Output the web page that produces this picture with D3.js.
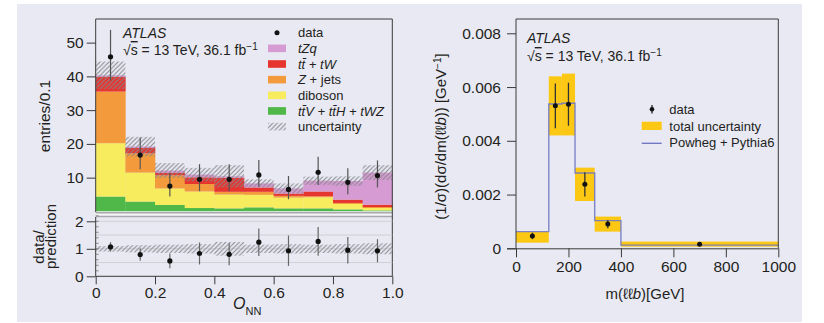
<!DOCTYPE html>
<html>
<head>
<meta charset="utf-8">
<script src="https://cdn.jsdelivr.net/npm/d3@7"></script>
<style>
  html, body { margin: 0; padding: 0; background: #ffffff; }
  svg { display: block; }
  text { font-family: "Liberation Sans Narrow", "Arial Narrow", "Liberation Sans", Arial, sans-serif; fill: #231f20; }
</style>
</head>
<body>
<div id="chart"></div>
<script>
// Left panel: O_NN distribution, 10 bins of 0.1
const binEdges = [0, 0.1, 0.2, 0.3, 0.4, 0.5, 0.6, 0.7, 0.8, 0.9, 1.0];
const ttvStack = [4.4, 2.9, 1.9, 1.0, 0.9, 1.2, 0.9, 0.9, 0.6, 0.3];
const diboson = [15.8, 8.6, 4.9, 4.9, 4.1, 3.7, 3.2, 3.3, 1.6, 0.7];
const zJets = [15.3, 5.7, 3.9, 2.2, 0.8, 0.9, 0.5, 0.3, 0.3, 0.3];
const ttW = [4.4, 1.6, 0.8, 2.0, 4.2, 1.3, 0.7, 1.4, 1.0, 0.7];
const tZq = [0.4, 0.4, 0.6, 0.8, 0.4, 1.2, 1.5, 3.2, 5.5, 9.5];
const mcUnc = [4.1, 2.9, 2.2, 2.0, 3.3, 1.2, 1.5, 1.2, 1.4, 2.2];
const dataVals = [45.8, 16.7, 7.5, 9.5, 9.5, 10.8, 6.5, 11.6, 8.6, 10.6];
const dataUp = [8.0, 5.2, 3.8, 4.5, 4.5, 4.4, 4.0, 4.6, 4.2, 4.5];
const dataDown = [7.0, 4.2, 3.1, 3.5, 3.5, 3.5, 2.9, 3.8, 3.5, 3.5];
const ratioVals = [1.07, 0.79, 0.56, 0.83, 0.80, 1.24, 0.93, 1.27, 0.95, 0.93];
const ratioErr = [0.17, 0.22, 0.27, 0.4, 0.4, 0.5, 0.55, 0.52, 0.48, 0.42];
const ratioBand = [0.1, 0.13, 0.15, 0.17, 0.25, 0.15, 0.17, 0.15, 0.17, 0.2];
const mainTicks = [10, 20, 30, 40, 50];
const ratioTicks = [0, 1, 2];
const onnTicks = [0, 0.2, 0.4, 0.6, 0.8, 1.0];

// Right panel: normalised m(llb) cross-section
const mEdges = [0, 125, 175, 225, 300, 400, 1000];
const mData = [0.00046, 0.0053, 0.00536, 0.00238, 0.0009, 0.00015];
const mDataErr = [0.00012, 0.00083, 0.0008, 0.00045, 0.00015, 0.00003];
const mUncLow = [0.00021, 0.0042, 0.0042, 0.00176, 0.00062, 0.00006];
const mUncHigh = [0.00062, 0.0064, 0.0065, 0.0030, 0.00118, 0.00025];
const powheg = [0.00062, 0.00537, 0.0054, 0.0028, 0.00103, 0.00012];
const mTicksX = [0, 200, 400, 600, 800, 1000];
const mTicksY = [0, 0.002, 0.004, 0.006, 0.008];

const procNames = ["ttv", "diboson", "zjets", "ttw", "tzq"];
const procColors = { ttv: "#4fb848", diboson: "#f6ec5e", zjets: "#f39b3c", ttw: "#e6352f", tzq: "#d59bd2" };

const W = 824, H = 323;
const svg = d3.select("#chart").append("svg").attr("width", W).attr("height", H);

// hatch used for the MC uncertainty
const defs = svg.append("defs");
defs.append("pattern")
    .attr("id", "hatch")
    .attr("patternUnits", "userSpaceOnUse")
    .attr("width", 4.5).attr("height", 4.5)
    .append("path")
    .attr("d", "M-1,1 l2,-2 M0,4.5 l4.5,-4.5 M3.5,5.5 l2,-2")
    .attr("stroke", "#85858b").attr("stroke-width", 1);

svg.append("rect").attr("x", 17).attr("y", 4).attr("width", 785).attr("height", 318).attr("fill", "#e9e9f4");

function styleTicks(g, size) {
    g.selectAll(".tick text").style("font-size", size + "px").style("font-family", '"Liberation Sans", Arial, sans-serif');
    g.selectAll(".domain, .tick line").attr("stroke", "#3a3a3a").attr("stroke-width", 1);
}

function renderStackPanel() {
    const x = d3.scaleLinear().domain([0, 1]).range([95.7, 392.3]);
    const y = d3.scaleLinear().domain([0, 57]).range([211.4, 19]);

    const rows = binEdges.slice(0, -1).map((lo, i) => ({
        lo, hi: binEdges[i + 1],
        ttv: ttvStack[i], diboson: diboson[i], zjets: zJets[i], ttw: ttW[i], tzq: tZq[i]
    }));
    const series = d3.stack().keys(procNames)(rows);

    const g = svg.append("g");
    series.forEach(s => {
        g.selectAll(null).data(s).join("rect")
            .attr("x", d => x(d.data.lo))
            .attr("width", d => x(d.data.hi) - x(d.data.lo) + 0.3)
            .attr("y", d => y(d[1]))
            .attr("height", d => y(d[0]) - y(d[1]))
            .attr("fill", procColors[s.key]);
    });

    // uncertainty band
    const totals = rows.map((r, i) => ttvStack[i] + diboson[i] + zJets[i] + ttW[i] + tZq[i]);
    g.selectAll(null).data(rows).join("rect")
        .attr("x", d => x(d.lo))
        .attr("width", d => x(d.hi) - x(d.lo))
        .attr("y", (d, i) => y(totals[i] + mcUnc[i]))
        .attr("height", (d, i) => y(totals[i] - mcUnc[i]) - y(totals[i] + mcUnc[i]))
        .attr("fill", "url(#hatch)");

    // data
    const mid = d => (d.lo + d.hi) / 2;
    g.selectAll(null).data(rows).join("line")
        .attr("x1", d => x(mid(d))).attr("x2", d => x(mid(d)))
        .attr("y1", (d, i) => y(dataVals[i] + dataUp[i]))
        .attr("y2", (d, i) => y(dataVals[i] - dataDown[i]))
        .attr("stroke", "#555").attr("stroke-width", 1.2);
    g.selectAll(null).data(rows).join("circle")
        .attr("cx", d => x(mid(d))).attr("cy", (d, i) => y(dataVals[i]))
        .attr("r", 2.6).attr("fill", "#111");

    // frame + separator strip
    svg.append("rect").attr("x", 95.7).attr("y", 211.5).attr("width", 296.6).attr("height", 5)
        .attr("fill", "#f4f4f8");
    svg.append("line").attr("x1", 95.7).attr("x2", 392.3).attr("y1", 212.8).attr("y2", 212.8).attr("stroke", "#a9a9ad").attr("stroke-width", 1.5);
    svg.append("line").attr("x1", 95.7).attr("x2", 392.3).attr("y1", 216.6).attr("y2", 216.6).attr("stroke", "#a9a9ad").attr("stroke-width", 1.5);
    svg.append("path").attr("d", `M95.7,212 V19 H392.3 V276.3`).attr("fill", "none").attr("stroke", "#3a3a3a");

    const ay = svg.append("g").attr("transform", "translate(95.7,0)")
        .call(d3.axisLeft(y).tickValues(mainTicks).tickSize(9).tickPadding(3));
    ay.select(".domain").remove();
    styleTicks(ay, 15.5);

    svg.append("text").attr("transform", "translate(50,116) rotate(-90)")
        .attr("text-anchor", "middle").style("font-size", "15.5px").text("entries/0.1");

    // labels inside
    svg.append("text").attr("x", 123).attr("y", 38).style("font-size", "14px").style("font-style", "italic").text("ATLAS");
    const lum = svg.append("text").attr("x", 123).attr("y", 55).style("font-size", "14px");
    lum.append("tspan").text("√");
    lum.append("tspan").style("text-decoration", "overline").text("s");
    lum.append("tspan").text(" = 13 TeV, 36.1 fb");
    lum.append("tspan").attr("dy", -5).style("font-size", "10px").text("−1");

    // legend
    const legItems = [
        { key: "data", label: [["data", false]] },
        { key: "tzq", label: [["tZq", true]] },
        { key: "ttw", label: [["tt̄ + tW", true]] },
        { key: "zjets", label: [["Z", true], [" + jets", false]] },
        { key: "diboson", label: [["diboson", false]] },
        { key: "ttv", label: [["tt̄V + tt̄H + tWZ", true]] },
        { key: "unc", label: [["uncertainty", false]] }
    ];
    const leg = svg.append("g");
    legItems.forEach((it, i) => {
        const cy = 32.7 + i * 15.65;
        if (it.key === "data") {
            leg.append("circle").attr("cx", 277).attr("cy", cy).attr("r", 2.5).attr("fill", "#111");
        } else {
            leg.append("rect").attr("x", 268).attr("y", cy - 3.8).attr("width", 18).attr("height", 7.6)
                .attr("fill", it.key === "unc" ? "url(#hatch)" : procColors[it.key]);
        }
        const t = leg.append("text").attr("x", 298).attr("y", cy + 4.6).style("font-size", "13px");
        it.label.forEach(p => t.append("tspan").style("font-style", p[1] ? "italic" : "normal").text(p[0]));
    });
}

function renderRatioPanel() {
    const x = d3.scaleLinear().domain([0, 1]).range([95.7, 392.3]);
    const y = d3.scaleLinear().domain([0, 2]).range([276.3, 221.3]);
    const g = svg.append("g");

    g.selectAll(null).data([0.5, 1, 1.5, 2]).join("line")
        .attr("x1", x(0)).attr("x2", x(1)).attr("y1", d => y(d)).attr("y2", d => y(d))
        .attr("stroke", "#cfcfd6").attr("stroke-width", 1);

    const rows = binEdges.slice(0, -1).map((lo, i) => ({ lo, hi: binEdges[i + 1], i }));
    g.selectAll(null).data(rows).join("rect")
        .attr("x", d => x(d.lo)).attr("width", d => x(d.hi) - x(d.lo))
        .attr("y", d => y(1 + ratioBand[d.i]))
        .attr("height", d => y(1 - ratioBand[d.i]) - y(1 + ratioBand[d.i]))
        .attr("fill", "url(#hatch)");

    const mid = d => (d.lo + d.hi) / 2;
    g.selectAll(null).data(rows).join("line")
        .attr("x1", d => x(mid(d))).attr("x2", d => x(mid(d)))
        .attr("y1", d => y(ratioVals[d.i] + ratioErr[d.i]))
        .attr("y2", d => y(ratioVals[d.i] - ratioErr[d.i]))
        .attr("stroke", "#666").attr("stroke-width", 1.2);
    g.selectAll(null).data(rows).join("circle")
        .attr("cx", d => x(mid(d))).attr("cy", d => y(ratioVals[d.i]))
        .attr("r", 2.6).attr("fill", "#111");

    // minor ticks inside
    g.selectAll(null).data(d3.range(0.2, 2.4, 0.2)).join("line")
        .attr("x1", x(0)).attr("x2", x(0) + 3).attr("y1", d => y(d)).attr("y2", d => y(d))
        .attr("stroke", "#777").attr("stroke-width", 0.8);

    svg.append("path").attr("d", "M95.7,217 V276.3 H392.3").attr("fill", "none").attr("stroke", "#3a3a3a");

    const ay = svg.append("g").attr("transform", "translate(95.7,0)")
        .call(d3.axisLeft(y).tickValues(ratioTicks).tickSize(9).tickPadding(3).tickFormat(d3.format("d")));
    ay.select(".domain").remove();
    styleTicks(ay, 15.5);

    const ax = svg.append("g").attr("transform", "translate(0,276.3)")
        .call(d3.axisBottom(x).tickValues(onnTicks).tickSize(8).tickPadding(3)
            .tickFormat(d => d === 0 ? "0" : d3.format(".1f")(d)));
    ax.select(".domain").remove();
    styleTicks(ax, 15.5);

    svg.append("text").attr("transform", "translate(44,247) rotate(-90)")
        .attr("text-anchor", "middle").style("font-size", "15px").text("data/");
    svg.append("text").attr("transform", "translate(56,236.5) rotate(-90)")
        .attr("text-anchor", "middle").style("font-size", "15px").text("prediction");

    const xl = svg.append("text").attr("x", 233).attr("y", 308.5).style("font-size", "16px");
    xl.append("tspan").style("font-style", "italic").text("O");
    xl.append("tspan").attr("dy", 6).style("font-size", "11px").text("NN");
}

function renderUnfoldedPanel() {
    const x = d3.scaleLinear().domain([0, 1000]).range([516, 778.3]);
    const y = d3.scaleLinear().domain([0, 0.008]).range([248.3, 33.3]);
    const g = svg.append("g");

    const rows = mEdges.slice(0, -1).map((lo, i) => ({ lo, hi: mEdges[i + 1], i }));

    g.selectAll(null).data(rows).join("rect")
        .attr("x", d => x(d.lo)).attr("width", d => x(d.hi) - x(d.lo))
        .attr("y", d => y(mUncHigh[d.i]))
        .attr("height", d => y(mUncLow[d.i]) - y(mUncHigh[d.i]))
        .attr("fill", "#fcc814");

    // Powheg step line
    const pts = [];
    rows.forEach(d => { pts.push([d.lo, powheg[d.i]]); pts.push([d.hi, powheg[d.i]]); });
    const line = d3.line().x(p => x(p[0])).y(p => y(p[1]));
    g.append("path").attr("d", line(pts)).attr("fill", "none")
        .attr("stroke", "#7279c4").attr("stroke-width", 1.4).attr("stroke-opacity", 0.9);

    const mid = d => (d.lo + d.hi) / 2;
    g.selectAll(null).data(rows).join("line")
        .attr("x1", d => x(mid(d))).attr("x2", d => x(mid(d)))
        .attr("y1", d => y(mData[d.i] + mDataErr[d.i]))
        .attr("y2", d => y(mData[d.i] - mDataErr[d.i]))
        .attr("stroke", "#333").attr("stroke-width", 1.3);
    g.selectAll(null).data(rows).join("circle")
        .attr("cx", d => x(mid(d))).attr("cy", d => y(mData[d.i]))
        .attr("r", 2.5).attr("fill", "#111");

    svg.append("path").attr("d", "M516,248.3 V19 H778.3 V248.3").attr("fill", "none").attr("stroke", "#3a3a3a");

    const ay = svg.append("g").attr("transform", "translate(516,0)")
        .call(d3.axisLeft(y).tickValues(mTicksY).tickSize(9).tickPadding(6)
            .tickFormat(d => d === 0 ? "0" : d3.format(".3f")(d)));
    ay.select(".domain").remove();
    styleTicks(ay, 15.5);
    const ax = svg.append("g").attr("transform", "translate(0,248.3)")
        .call(d3.axisBottom(x).tickValues(mTicksX).tickSize(9).tickPadding(4).tickFormat(d3.format("d")));
    ax.select(".domain").attr("d", "M507,0.5H778.3");
    styleTicks(ax, 15.5);

    svg.append("text").attr("x", 527).attr("y", 42.7).style("font-size", "14px").style("font-style", "italic").text("ATLAS");
    const lum = svg.append("text").attr("x", 527).attr("y", 61).style("font-size", "14px");
    lum.append("tspan").text("√");
    lum.append("tspan").style("text-decoration", "overline").text("s");
    lum.append("tspan").text(" = 13 TeV, 36.1 fb");
    lum.append("tspan").attr("dy", -5).style("font-size", "10px").text("−1");

    // legend
    const lg = svg.append("g");
    lg.append("line").attr("x1", 652).attr("x2", 652).attr("y1", 105).attr("y2", 113.5).attr("stroke", "#222").attr("stroke-width", 1.3);
    lg.append("circle").attr("cx", 652).attr("cy", 109.3).attr("r", 2.3).attr("fill", "#111");
    lg.append("rect").attr("x", 641.7).attr("y", 121.7).attr("width", 20).attr("height", 8.3).attr("fill", "#fcc814");
    lg.append("line").attr("x1", 641.7).attr("x2", 661.7).attr("y1", 143.3).attr("y2", 143.3).attr("stroke", "#7279c4").attr("stroke-width", 1.4);
    [["data", 109.3], ["total uncertainty", 126], ["Powheg + Pythia6", 142.4]].forEach(r => {
        lg.append("text").attr("x", 669.3).attr("y", r[1] + 4.5).style("font-size", "13px").text(r[0]);
    });

    const yl = svg.append("text").attr("transform", "translate(446,136.5) rotate(-90)")
        .attr("text-anchor", "middle").style("font-size", "15px");
    yl.append("tspan").text("(1/σ)(dσ/dm(ℓℓ");
    yl.append("tspan").style("font-style", "italic").text("b");
    yl.append("tspan").text(")) [GeV");
    yl.append("tspan").attr("dy", -5).style("font-size", "10px").text("−1");
    yl.append("tspan").attr("dy", 5).text("]");

    const xl = svg.append("text").attr("x", 645).attr("y", 298.5).attr("text-anchor", "middle").style("font-size", "15px");
    xl.append("tspan").text("m(ℓℓ");
    xl.append("tspan").style("font-style", "italic").text("b");
    xl.append("tspan").text(")[GeV]");
}

document.addEventListener("DOMContentLoaded", () => {
    renderStackPanel();
    renderRatioPanel();
    renderUnfoldedPanel();
});
</script>
</body>
</html>
